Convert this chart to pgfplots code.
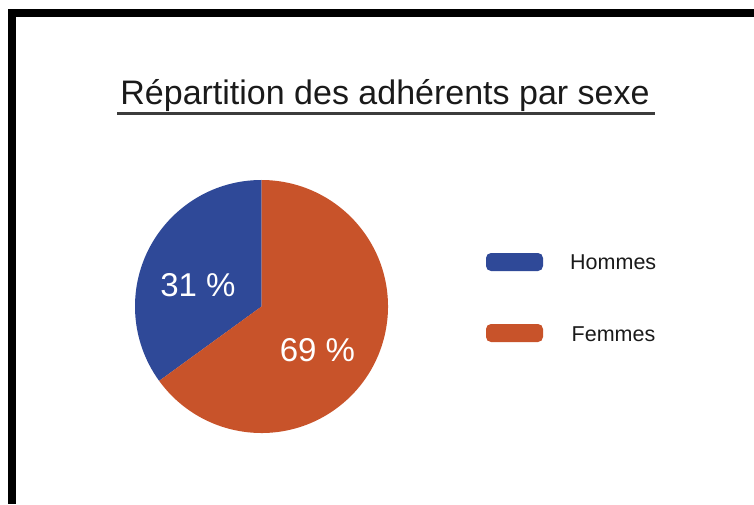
\documentclass[border=0pt]{standalone}
\usepackage{pgfplots}
\pgfplotsset{compat=1.18}
\usepackage{fontspec}
\setmainfont{Liberation Sans}
\definecolor{hblue}{RGB}{47,73,152}
\definecolor{forange}{RGB}{200,83,42}
\definecolor{txt}{RGB}{26,26,26}
% slice shares as drawn (labels: 31 % / 69 %)
\def\hommes{35}
\def\femmes{65}
\begin{document}
\begin{tikzpicture}
\begin{axis}[width=754pt,height=504pt,scale only axis,
  xmin=0,xmax=754,ymin=0,ymax=504,hide axis,clip=false]
\path (axis cs:0,0) rectangle (axis cs:754,504);
% frame (top and left bands)
\fill[black] (axis cs:8,495) rectangle (axis cs:754,487);
\fill[black] (axis cs:8,495) rectangle (axis cs:16,0);
% title
\node[anchor=base,text=txt,font=\fontsize{34}{40}\selectfont] at (axis cs:385,399) {Répartition des adhérents par sexe};
\draw[line width=2.5pt,color=txt!85] (axis cs:117,390.5) -- (axis cs:655,390.5);
% pie
\pgfmathsetmacro{\aone}{90+\hommes*3.6}
\pgfmathsetmacro{\atwo}{\aone+\femmes*3.6}
\fill[hblue] (axis cs:261.5,197.5) -- (axis cs:261.5,324) arc[start angle=90,end angle=\aone,radius=126.5pt] -- cycle;
\fill[forange] (axis cs:261.5,197.5) -- ++(\aone:126.5pt) arc[start angle=\aone,end angle=\atwo,radius=126.5pt] -- cycle;
\node[anchor=base,text=white,font=\fontsize{33}{38}\selectfont] at (axis cs:198,207.5) {31 \%};
\node[anchor=base,text=white,font=\fontsize{33}{38}\selectfont] at (axis cs:317.5,142.5) {69 \%};
% legend
\fill[hblue,rounded corners=5pt] (axis cs:486,251) rectangle (axis cs:543,233);
\fill[forange,rounded corners=5pt] (axis cs:486,180) rectangle (axis cs:543,162);
\node[anchor=base west,inner sep=0pt,text=txt,font=\fontsize{21.5}{25}\selectfont] at (axis cs:570,235) {Hommes};
\node[anchor=base west,inner sep=0pt,text=txt,font=\fontsize{21.5}{25}\selectfont] at (axis cs:571.5,162.5) {Femmes};
\end{axis}
\end{tikzpicture}
\end{document}
